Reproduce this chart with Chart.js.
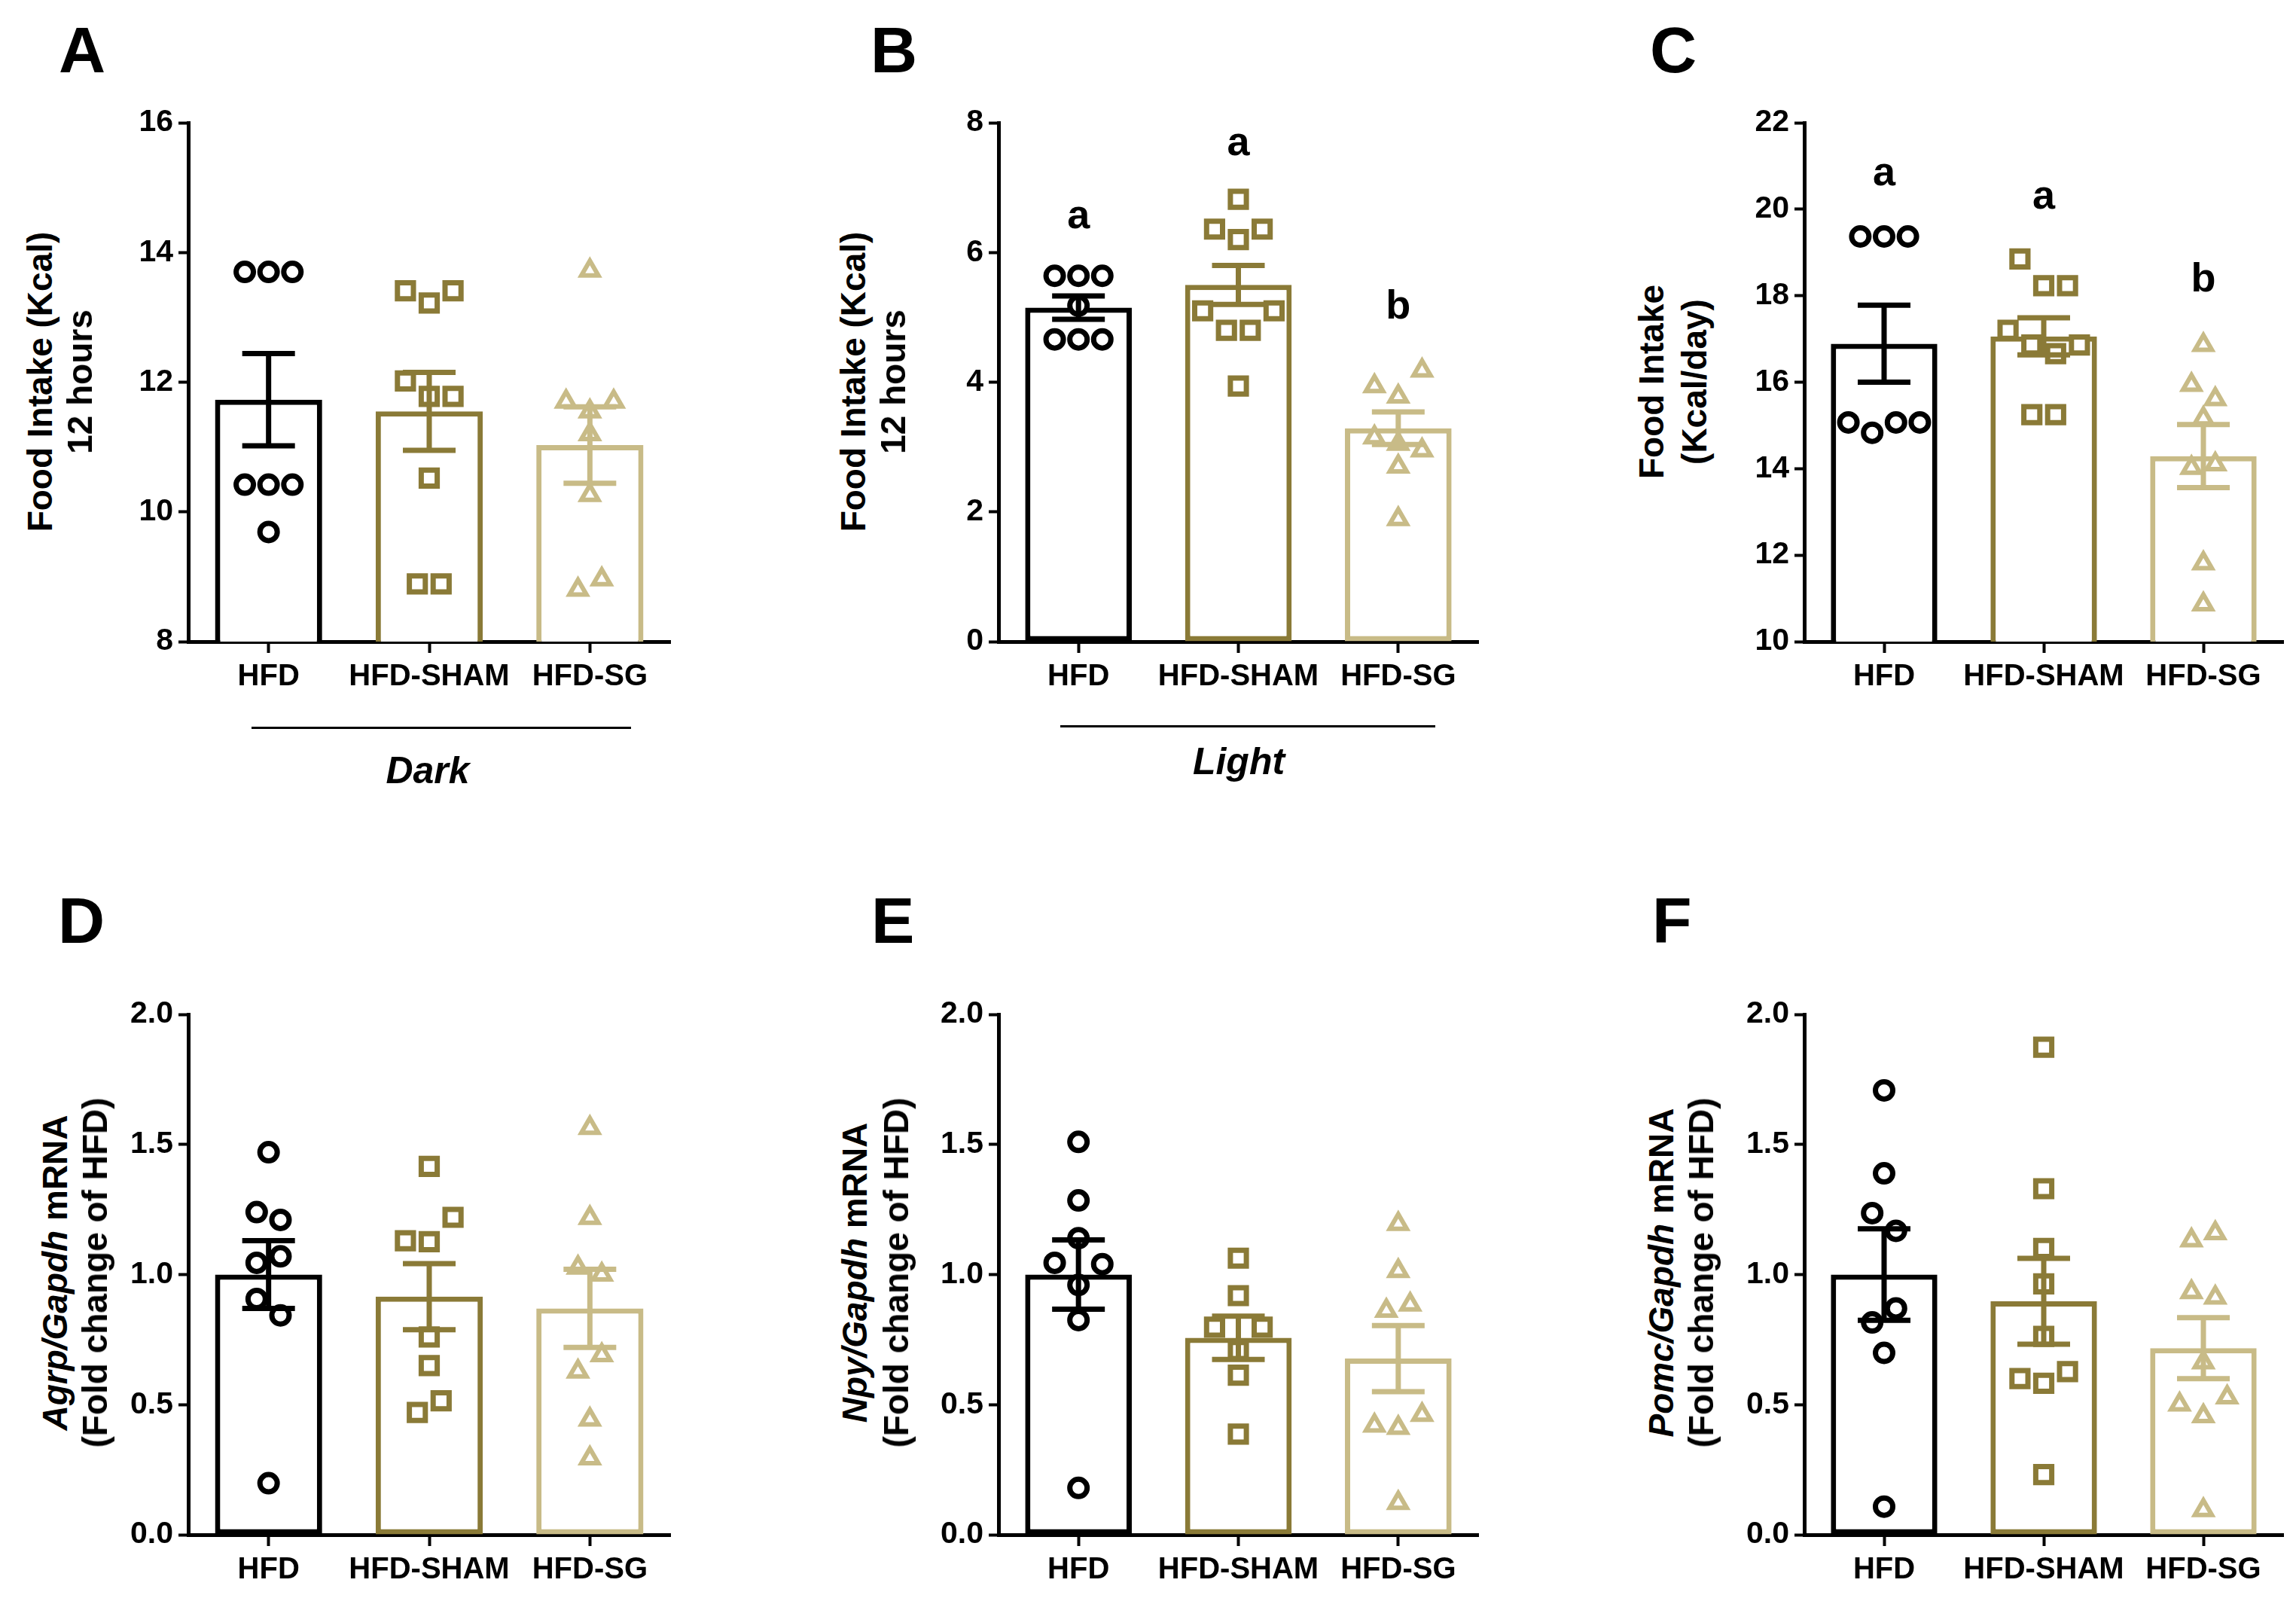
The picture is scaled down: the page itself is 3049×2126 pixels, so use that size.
<!DOCTYPE html>
<html>
<head>
<meta charset="utf-8">
<script src="https://cdn.jsdelivr.net/npm/chart.js@4.4.1/dist/chart.umd.min.js"></script>
<style>
html,body{margin:0;padding:0;background:#fff;}
body{width:3049px;height:2126px;position:relative;overflow:hidden;font-family:"Liberation Sans",Arial,sans-serif;color:#000;}
canvas{position:absolute;}
.letter{position:absolute;font-weight:bold;font-size:86px;line-height:1;white-space:nowrap;}
.ytitle{position:absolute;font-weight:bold;font-size:46px;line-height:1;white-space:nowrap;transform:translate(-50%,-50%) rotate(-90deg);}
.cond{position:absolute;font-weight:bold;font-style:italic;font-size:50px;line-height:1;white-space:nowrap;transform:translate(-50%,-50%);}
.rule{position:absolute;height:3px;background:#000;}
</style>
</head>
<body>
<script>
// ---------------- DATA ----------------
const groups = ['HFD', 'HFD-SHAM', 'HFD-SG'];

// Panel A : Food intake, dark, 12 h (Kcal)
const A_ticks = [8, 10, 12, 14, 16];
const A_mean = [11.73, 11.55, 11.03];
const A_sem = [0.71, 0.60, 0.59];
const A_HFD = [13.70, 13.70, 13.70, 10.42, 10.42, 10.42, 9.69];
const A_SHAM = [13.41, 13.22, 13.41, 12.02, 11.78, 11.78, 10.52, 8.89, 8.89];
const A_SG = [13.72, 11.70, 11.55, 11.70, 11.20, 10.26, 8.80, 8.96];

// Panel B : Food intake, light, 12 h (Kcal)
const B_ticks = [0, 2, 4, 6, 8];
const B_mean = [5.15, 5.50, 3.29];
const B_sem = [0.18, 0.30, 0.25];
const B_HFD = [5.64, 5.64, 5.64, 5.18, 4.66, 4.66, 4.66];
const B_SHAM = [6.82, 6.36, 6.20, 6.36, 5.10, 4.80, 4.80, 5.10, 3.94];
const B_SG = [3.94, 3.78, 4.18, 3.15, 3.05, 2.95, 2.70, 1.89];
const B_sig = ['a', 'a', 'b'];
const B_sigAt = [6.38, 7.50, 4.98];

// Panel C : Food intake (Kcal/day)
const C_ticks = [10, 12, 14, 16, 18, 20, 22];
const C_mean = [16.89, 17.06, 14.29];
const C_sem = [0.89, 0.43, 0.73];
const C_HFD = [19.37, 19.37, 19.37, 15.07, 14.83, 15.07, 15.07];
const C_SHAM = [18.85, 18.23, 18.23, 17.20, 16.86, 16.66, 16.86, 15.25, 15.25];
const C_SG = [16.86, 15.94, 15.61, 15.16, 14.02, 14.10, 11.81, 10.86];
const C_sig = ['a', 'a', 'b'];
const C_sigAt = [20.55, 20.02, 18.09];

// Panel D : Agrp/Gapdh mRNA
const R_ticks = [0, 0.5, 1.0, 1.5, 2.0];
const D_mean = [1.00, 0.915, 0.87];
const D_sem = [0.13, 0.127, 0.15];
const D_HFD = [1.47, 1.24, 1.21, 1.045, 1.07, 0.906, 0.843, 0.198];
const D_SHAM = [1.416, 1.13, 1.126, 1.22, 0.76, 0.65, 0.47, 0.515];
const D_SG = [1.564, 1.218, 1.027, 1.00, 0.627, 0.69, 0.443, 0.294];

// Panel E : Npy/Gapdh mRNA
const E_mean = [1.00, 0.757, 0.677];
const E_sem = [0.133, 0.083, 0.127];
const E_HFD = [1.51, 1.285, 1.045, 1.14, 1.04, 0.96, 0.825, 0.18];
const E_SHAM = [1.063, 0.919, 0.798, 0.708, 0.798, 0.613, 0.387];
const E_SG = [1.195, 1.014, 0.861, 0.885, 0.42, 0.411, 0.461, 0.122];

// Panel F : Pomc/Gapdh mRNA
const F_mean = [1.00, 0.897, 0.717];
const F_sem = [0.176, 0.165, 0.117];
const F_HFD = [1.708, 1.389, 1.236, 1.168, 0.816, 0.87, 0.699, 0.108];
const F_SHAM = [1.874, 1.33, 1.10, 0.964, 0.762, 0.60, 0.582, 0.627, 0.231];
const F_SG = [1.132, 1.159, 0.933, 0.912, 0.663, 0.501, 0.456, 0.528, 0.095];

// ---------------- STYLE / LAYOUT ----------------
const COLORS = ['#000000', '#8a7a37', '#c8bb87'];
const STYLES = ['circle', 'rect', 'triangle'];
const RADII = [11.5, 15, 13];
const PBW = [7, 7, 6];
const COL_X = [250, 1326, 2396];
const COL_W = [648, 645, 644];
const ROW_Y = [163, 1347];
const ROW_H = [689, 691];
const YW = 120, PT = 40, PR = 14, XH = 110;
const FONT = '"Liberation Sans", Arial, sans-serif';
Chart.defaults.font.family = FONT;
Chart.defaults.color = '#000';

const panels = [
  {L:'A', c:0, r:0, ticks:A_ticks, mean:A_mean, sem:A_sem, pts:[A_HFD, A_SHAM, A_SG], dec:0,
   t1:'Food Intake (Kcal)', t2:'12 hours', tx:[53, 106]},
  {L:'B', c:1, r:0, ticks:B_ticks, mean:B_mean, sem:B_sem, pts:[B_HFD, B_SHAM, B_SG], dec:0, sig:B_sig, sigAt:B_sigAt,
   t1:'Food Intake (Kcal)', t2:'12 hours', tx:[1133, 1186]},
  {L:'C', c:2, r:0, ticks:C_ticks, mean:C_mean, sem:C_sem, pts:[C_HFD, C_SHAM, C_SG], dec:0, sig:C_sig, sigAt:C_sigAt,
   t1:'Food Intake', t2:'(Kcal/day)', tx:[2193, 2250]},
  {L:'D', c:0, r:1, ticks:R_ticks, mean:D_mean, sem:D_sem, pts:[D_HFD, D_SHAM, D_SG], dec:1,
   t1:'<i>Agrp/Gapdh</i> mRNA', t2:'(Fold change of HFD)', tx:[73, 126]},
  {L:'E', c:1, r:1, ticks:R_ticks, mean:E_mean, sem:E_sem, pts:[E_HFD, E_SHAM, E_SG], dec:1,
   t1:'<i>Npy/Gapdh</i> mRNA', t2:'(Fold change of HFD)', tx:[1135, 1190]},
  {L:'F', c:2, r:1, ticks:R_ticks, mean:F_mean, sem:F_sem, pts:[F_HFD, F_SHAM, F_SG], dec:1,
   t1:'<i>Pomc/Gapdh</i> mRNA', t2:'(Fold change of HFD)', tx:[2206, 2259]}
];

const LETTER_POS = {A:[78,66], B:[1156,66], C:[2191,66], D:[77,1222], E:[1157,1222], F:[2194,1222]};
const TITLE_Y = [507, 1690];

// group points that share a row and spread them symmetrically
function jitterOffsets(vals, thr, d) {
  const off = new Array(vals.length).fill(0);
  let row = [];
  const flush = () => { row.forEach((idx, k) => { off[idx] = (k - (row.length - 1) / 2) * d; }); row = []; };
  vals.forEach((v, i) => {
    if (row.length) {
      const rv = row.map(j => vals[j]);
      const lo = Math.min(...rv, v), hi = Math.max(...rv, v);
      if (hi - lo > thr) flush();
    }
    row.push(i);
  });
  flush();
  return off;
}

function addDiv(cls, html, left, top, extra) {
  const d = document.createElement('div');
  d.className = cls;
  d.innerHTML = html;
  d.style.left = left + 'px';
  d.style.top = top + 'px';
  if (extra) Object.assign(d.style, extra);
  document.body.appendChild(d);
  return d;
}

panels.forEach(p => {
  const X = COL_X[p.c], W = COL_W[p.c], Y = ROW_Y[p.r], H = ROW_H[p.r];
  const ymin = p.ticks[0], ymax = p.ticks[p.ticks.length - 1];
  const cv = document.createElement('canvas');
  cv.width = YW + W + PR;
  cv.height = PT + H + XH;
  cv.style.left = (X - YW) + 'px';
  cv.style.top = (Y - PT) + 'px';
  cv.style.width = cv.width + 'px';
  cv.style.height = cv.height + 'px';
  document.body.appendChild(cv);

  const thr = 36 * (ymax - ymin) / H;
  const dCat = 32 / (W / 3);

  const scatterSets = p.pts.map((vals, g) => {
    const off = jitterOffsets(vals, thr, dCat);
    return {
      type: 'scatter', xAxisID: 'x2', yAxisID: 'y', order: 1, clip: false,
      data: vals.map((v, k) => ({x: g + off[k], y: v})),
      pointStyle: STYLES[g], pointRadius: RADII[g], pointHoverRadius: RADII[g],
      pointBorderWidth: PBW[g], pointBackgroundColor: '#ffffff', pointBorderColor: COLORS[g]
    };
  });

  const errPlugin = {
    id: 'errbars' + p.L,
    afterDatasetsDraw(chart) {
      const xs = chart.scales.x, ys = chart.scales.y, ctx = chart.ctx;
      ctx.save();
      ctx.lineWidth = 7;
      ctx.lineCap = 'butt';
      p.mean.forEach((m, i) => {
        const x = xs.getPixelForValue(i);
        const yt = ys.getPixelForValue(m + p.sem[i]);
        const yb = ys.getPixelForValue(m - p.sem[i]);
        ctx.strokeStyle = COLORS[i];
        ctx.beginPath();
        ctx.moveTo(x, yt); ctx.lineTo(x, yb);
        ctx.moveTo(x - 35, yt); ctx.lineTo(x + 35, yt);
        ctx.moveTo(x - 35, yb); ctx.lineTo(x + 35, yb);
        ctx.stroke();
      });
      if (p.sig) {
        ctx.fillStyle = '#000';
        ctx.font = 'bold 54px ' + FONT;
        ctx.textAlign = 'center';
        ctx.textBaseline = 'alphabetic';
        p.sig.forEach((s, i) => {
          ctx.fillText(s, xs.getPixelForValue(i), ys.getPixelForValue(p.sigAt[i]));
        });
      }
      ctx.restore();
    }
  };

  new Chart(cv, {
    type: 'bar',
    data: {
      labels: groups,
      datasets: [
        {type: 'bar', xAxisID: 'x', yAxisID: 'y', order: 3, data: p.mean, grouped: false,
         backgroundColor: '#ffffff', borderColor: COLORS, borderWidth: 7, borderSkipped: false,
         categoryPercentage: 1, barPercentage: 0.667}
      ].concat(scatterSets)
    },
    options: {
      responsive: false, animation: false, devicePixelRatio: 1,
      events: [],
      layout: {padding: {top: PT, right: PR, left: 0, bottom: 0}},
      plugins: {legend: {display: false}, tooltip: {enabled: false}},
      scales: {
        x: {
          type: 'category', offset: true, position: 'bottom',
          grid: {offset: false, drawOnChartArea: false, drawTicks: true, tickLength: 15, tickWidth: 4, tickColor: '#000'},
          border: {display: true, color: '#000', width: 5},
          ticks: {color: '#000', font: {size: 40, weight: 'bold'}, padding: 8, maxRotation: 0, autoSkip: false},
          afterFit(s) { s.height = XH; }
        },
        x2: {type: 'linear', display: false, offset: false, grid: {offset: false}, min: -0.5, max: 2.5},
        y: {
          type: 'linear', min: ymin, max: ymax,
          afterBuildTicks(s) { s.ticks = p.ticks.map(v => ({value: v})); },
          grid: {drawOnChartArea: false, drawTicks: true, tickLength: 13, tickWidth: 4, tickColor: '#000'},
          border: {display: true, color: '#000', width: 5},
          ticks: {color: '#000', font: {size: 41, weight: 'bold'}, padding: 7,
                  callback: v => Number(v).toFixed(p.dec)},
          afterFit(s) { s.width = YW; }
        }
      }
    },
    plugins: [errPlugin]
  });

  // panel letter and y-axis titles
  const lp = LETTER_POS[p.L];
  addDiv('letter', p.L, lp[0], lp[1] - 43);
  addDiv('ytitle', p.t1, p.tx[0], TITLE_Y[p.r]);
  addDiv('ytitle', p.t2, p.tx[1], TITLE_Y[p.r]);
});

// condition labels under panels A and B
addDiv('rule', '', 334, 965, {width: '504px'});
addDiv('cond', 'Dark', 568, 1023);
addDiv('rule', '', 1408, 963, {width: '498px'});
addDiv('cond', 'Light', 1645, 1011);
</script>
</body>
</html>
